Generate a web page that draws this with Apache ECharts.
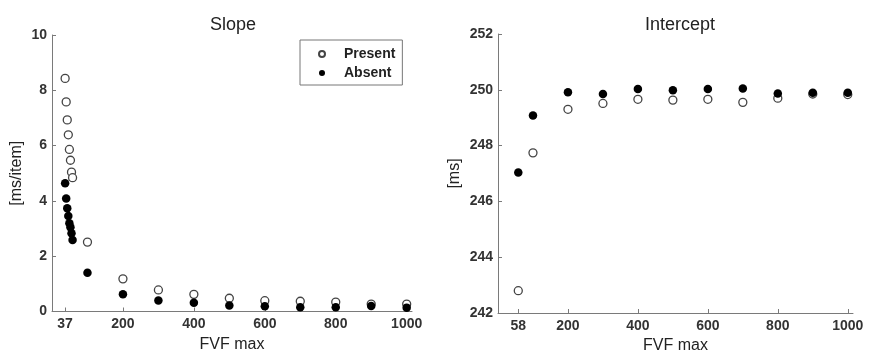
<!DOCTYPE html>
<html>
<head>
<meta charset="utf-8">
<script src="https://cdn.jsdelivr.net/npm/echarts@6/dist/echarts.min.js"></script>
<style>html,body{margin:0;padding:0;background:#fff}#c{width:870px;height:350px}</style>
</head>
<body>
<div id="c"></div>
<script>
// ---- data ----
const slopeX = [37, 40, 43, 46, 49, 52, 55, 58, 100, 200, 300, 400, 500, 600, 700, 800, 900, 1000];
const slopePresent = [8.43, 7.58, 6.93, 6.39, 5.86, 5.47, 5.04, 4.84, 2.51, 1.18, 0.78, 0.62, 0.48, 0.39, 0.37, 0.34, 0.27, 0.27];
const slopeAbsent = [4.64, 4.09, 3.73, 3.45, 3.19, 3.05, 2.83, 2.59, 1.40, 0.62, 0.40, 0.32, 0.22, 0.19, 0.15, 0.15, 0.20, 0.14];

const interceptX = [58, 100, 200, 300, 400, 500, 600, 700, 800, 900, 1000];
const interceptPresent = [242.80, 247.74, 249.30, 249.51, 249.66, 249.63, 249.66, 249.55, 249.70, 249.85, 249.83];
const interceptAbsent = [247.04, 249.08, 249.91, 249.85, 250.03, 249.98, 250.03, 250.05, 249.87, 249.89, 249.89];

const slopeXTicks = [37, 200, 400, 600, 800, 1000];
const interceptXTicks = [58, 200, 400, 600, 800, 1000];
const seriesNames = ['Present', 'Absent'];
const titles = ['Slope', 'Intercept'];
const yNames = ['[ms/item]', '[ms]'];
const xName = 'FVF max';

const pairs = (xs, ys) => xs.map((x, i) => [x, ys[i]]);

const FONT = '"Liberation Sans", Arial, sans-serif';
const axisColor = '#7a7a7a';
const labelStyle = { color: '#333', fontWeight: 'bold', fontSize: 14, fontFamily: FONT, formatter: v => String(v) };

function xAxis(idx, ticks) {
  return {
    type: 'value', gridIndex: idx, min: 0, max: 1015,
    name: xName, nameLocation: 'middle', nameGap: 23,
    nameTextStyle: { color: '#222', fontSize: 16, fontFamily: FONT },
    axisLine: { show: true, lineStyle: { color: axisColor, width: 1 } },
    axisTick: { show: true, inside: true, length: 4, lineStyle: { color: axisColor }, customValues: ticks },
    axisLabel: Object.assign({ margin: 6, customValues: ticks, showMinLabel: true, showMaxLabel: true }, labelStyle),
    splitLine: { show: false }
  };
}
function yAxis(idx, min, max, gap) {
  return {
    type: 'value', gridIndex: idx, min: min, max: max, interval: 2,
    name: yNames[idx], nameLocation: 'middle', nameGap: gap,
    nameTextStyle: { color: '#222', fontSize: 16, fontFamily: FONT },
    axisLine: { show: true, lineStyle: { color: axisColor, width: 1 } },
    axisTick: { show: true, inside: true, length: 4, lineStyle: { color: axisColor } },
    axisLabel: Object.assign({ margin: 5 }, labelStyle),
    splitLine: { show: false }
  };
}

const openStyle = { color: '#fff', borderColor: '#444', borderWidth: 1.3, opacity: 1 };
const fillStyle = { color: '#000', borderColor: '#000', borderWidth: 0, opacity: 1 };

const chart = echarts.init(document.getElementById('c'), null, { renderer: 'canvas' });
chart.setOption({
  animation: false,
  backgroundColor: '#fff',
  title: [
    { text: titles[0], left: 228, top: 11, textAlign: 'center', textStyle: { fontSize: 18, fontWeight: 'normal', color: '#222', fontFamily: FONT } },
    { text: titles[1], left: 675, top: 11, textAlign: 'center', textStyle: { fontSize: 18, fontWeight: 'normal', color: '#222', fontFamily: FONT } }
  ],
  legend: {
    data: seriesNames, orient: 'vertical', left: 300, top: 40,
    padding: [7, 7, 5, 18],
    borderColor: '#777', borderWidth: 1, backgroundColor: '#fff',
    itemWidth: 10, itemHeight: 6, itemGap: 5,
    textStyle: { color: '#222', fontWeight: 'bold', fontSize: 14, lineHeight: 14, fontFamily: FONT, padding: [0, 0, 0, 12] }
  },
  grid: [
    { left: 52, top: 35, width: 360, height: 276.5, containLabel: false, outerBoundsMode: 'none' },
    { left: 498, top: 34, width: 355, height: 279, containLabel: false, outerBoundsMode: 'none' }
  ],
  xAxis: [xAxis(0, slopeXTicks), xAxis(1, interceptXTicks)],
  yAxis: [yAxis(0, 0, 10, 27), yAxis(1, 242, 252, 35)],
  series: [
    { name: seriesNames[0], type: 'scatter', xAxisIndex: 0, yAxisIndex: 0, symbol: 'circle', symbolSize: 8, itemStyle: openStyle, data: pairs(slopeX, slopePresent) },
    { name: seriesNames[1], type: 'scatter', xAxisIndex: 0, yAxisIndex: 0, symbol: 'circle', symbolSize: 8.5, itemStyle: fillStyle, data: pairs(slopeX, slopeAbsent) },
    { name: seriesNames[0], type: 'scatter', xAxisIndex: 1, yAxisIndex: 1, symbol: 'circle', symbolSize: 8, itemStyle: openStyle, data: pairs(interceptX, interceptPresent) },
    { name: seriesNames[1], type: 'scatter', xAxisIndex: 1, yAxisIndex: 1, symbol: 'circle', symbolSize: 8.5, itemStyle: fillStyle, data: pairs(interceptX, interceptAbsent) }
  ]
});
</script>
</body>
</html>
